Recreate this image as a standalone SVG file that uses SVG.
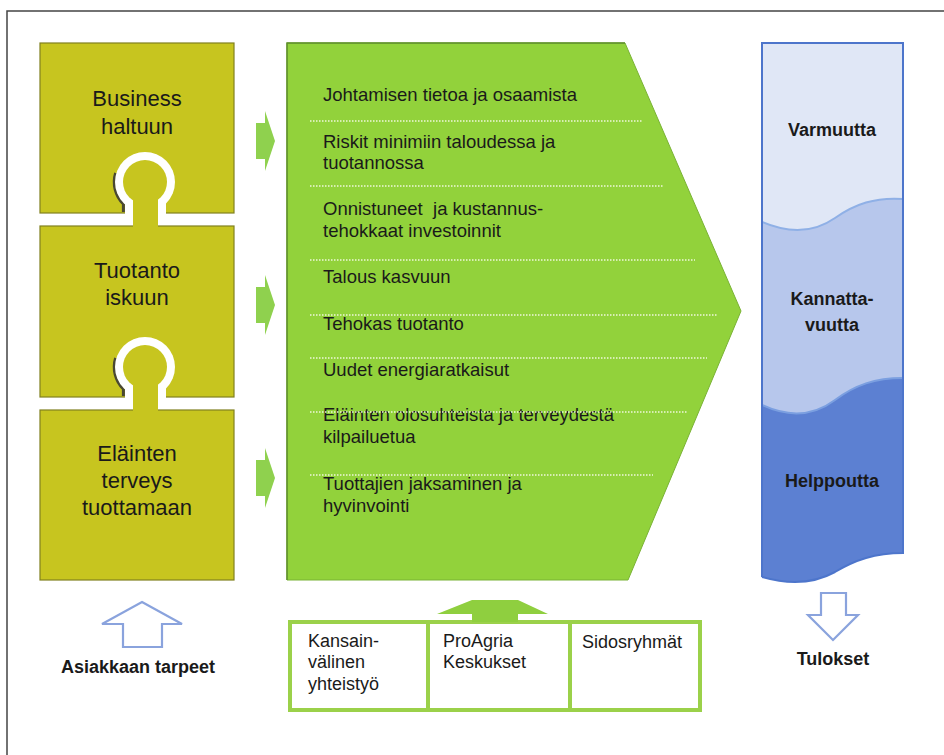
<svg xmlns="http://www.w3.org/2000/svg" width="944" height="755" viewBox="0 0 944 755">
<style>
text{font-family:"Liberation Sans",Arial,sans-serif;fill:#1a1a1a}
.blk{font-size:22px;text-anchor:middle}
.itm{font-size:18.5px}
.bold{font-size:18px;font-weight:bold;text-anchor:middle}
.box{font-size:18px}
.yel{fill:#c7c51f}
.yb{fill:#c7c51f;stroke:#80801e;stroke-width:1.2}
.cut{fill:#ffffff}
.shd{fill:none;stroke:#4a4832;stroke-width:3}
.dot{stroke:#eef8da;stroke-width:1.3;stroke-dasharray:1.5 1.5;fill:none}
.ga{fill:#8fd14e}
.oa{fill:#ffffff;stroke:#8aa3dd;stroke-width:2.2;stroke-linejoin:miter}
</style>
<rect x="0" y="0" width="944" height="755" fill="#ffffff"/>
<g id="frame" fill="none" stroke="#444" stroke-width="1.5">
<path d="M7,755 V11 H944"/>
</g>
<g id="puzzle">
<g id="block-business">
<rect class="yb" x="40" y="43" width="194" height="170"/>
<path class="shd" d="M115.6,173 A31,31 0 0 0 123.4,204 L123.4,212"/>
<circle class="cut" cx="145" cy="182" r="30"/>
<rect class="cut" x="125" y="182" width="41" height="32"/>
<text class="blk" x="137" y="106">Business</text>
<text class="blk" x="137" y="134">haltuun</text>
</g>
<g id="block-tuotanto">
<rect class="yb" x="40" y="226" width="194" height="171"/>
<circle class="yel" cx="145" cy="182" r="22"/>
<rect class="yel" x="133" y="182" width="25" height="46"/>
<path class="shd" d="M115.6,358 A31,31 0 0 0 123.4,389 L123.4,396"/>
<circle class="cut" cx="145" cy="367" r="30"/>
<rect class="cut" x="125" y="367" width="41" height="31"/>
<text class="blk" x="137" y="278">Tuotanto</text>
<text class="blk" x="137" y="305">iskuun</text>
</g>
<g id="block-elainten">
<rect class="yb" x="40" y="410" width="194" height="170"/>
<circle class="yel" cx="145" cy="367" r="22"/>
<rect class="yel" x="133" y="367" width="25" height="45"/>
<text class="blk" x="137" y="461">Eläinten</text>
<text class="blk" x="137" y="488">terveys</text>
<text class="blk" x="137" y="515">tuottamaan</text>
</g>
</g>
<g id="services">
<polygon points="287,43 625,43 741,311 628,580 287,580" fill="#92d23b" stroke="#79b234" stroke-width="1"/>
<path d="M287,580 V43 H625" fill="none" stroke="#5f8f2c" stroke-width="1.5"/>
<text class="itm" x="323" y="101">Johtamisen tietoa ja osaamista</text>
<line class="dot" x1="310" y1="121" x2="643" y2="121"/>
<text class="itm" x="323" y="148">Riskit minimiin taloudessa ja</text>
<text class="itm" x="323" y="169">tuotannossa</text>
<line class="dot" x1="310" y1="186" x2="663" y2="186"/>
<text class="itm" x="323" y="215" xml:space="preserve">Onnistuneet  ja kustannus-</text>
<text class="itm" x="323" y="237">tehokkaat investoinnit</text>
<line class="dot" x1="310" y1="260" x2="695" y2="260"/>
<text class="itm" x="323" y="283">Talous kasvuun</text>
<line class="dot" x1="310" y1="315" x2="718" y2="315"/>
<text class="itm" x="323" y="330">Tehokas tuotanto</text>
<line class="dot" x1="310" y1="358" x2="707" y2="358"/>
<text class="itm" x="323" y="376">Uudet energiaratkaisut</text>
<text class="itm" x="323" y="421">Eläinten olosuhteista ja terveydestä</text>
<line class="dot" x1="310" y1="412" x2="687" y2="412"/>
<text class="itm" x="323" y="443">kilpailuetua</text>
<line class="dot" x1="310" y1="475" x2="653" y2="475"/>
<text class="itm" x="323" y="490">Tuottajien jaksaminen ja</text>
<text class="itm" x="323" y="512">hyvinvointi</text>
</g>
<g id="results">
<path d="M762,43 H903 V199 C875,197 855,204 835,218 C815,232 790,234 762,222 Z" fill="#e0e7f6"/>
<path d="M762,222 C790,234 815,232 835,218 C855,204 875,197 903,199 V378 C875,378 855,385 835,400 C815,415 790,418 762,405 Z" fill="#b7c7ec"/>
<path d="M762,405 C790,418 815,415 835,400 C855,385 875,378 903,378 V553 C875,553 855,560 835,572 C815,583 790,585 762,577 Z" fill="#5c80d2"/>
<path d="M762,222 C790,234 815,232 835,218 C855,204 875,197 903,199" fill="none" stroke="#8fb0e6" stroke-width="2"/>
<path d="M762,405 C790,418 815,415 835,400 C855,385 875,378 903,378" fill="none" stroke="#7b9fe0" stroke-width="2"/>
<path d="M762,577 V43 H903 V553 C875,553 855,560 835,572 C815,583 790,585 762,577" fill="none" stroke="#4d75cb" stroke-width="2"/>
<text class="bold" x="832" y="136">Varmuutta</text>
<text class="bold" x="832" y="305">Kannatta-</text>
<text class="bold" x="832" y="331">vuutta</text>
<text class="bold" x="832" y="487">Helppoutta</text>
</g>
<g id="partners">
<rect x="290" y="622" width="410" height="88" fill="#ffffff" stroke="#9bd14a" stroke-width="4"/>
<line x1="428" y1="622" x2="428" y2="710" stroke="#9bd14a" stroke-width="4"/>
<line x1="570" y1="622" x2="570" y2="710" stroke="#9bd14a" stroke-width="4"/>
<text class="box" x="308" y="647">Kansain-</text>
<text class="box" x="308" y="668">välinen</text>
<text class="box" x="308" y="690">yhteistyö</text>
<text class="box" x="443" y="647">ProAgria</text>
<text class="box" x="443" y="668">Keskukset</text>
<text class="box" x="582" y="648">Sidosryhmät</text>
</g>
<g id="customer-needs">
<text class="bold" x="138" y="673">Asiakkaan tarpeet</text>
</g>
<g id="outcomes">
<text class="bold" x="833" y="665">Tulokset</text>
</g>
<g id="connectors">
<polygon class="ga" points="256,123 265,123 265,111 275,141 265,171 265,159 256,159"/>
<polygon class="ga" points="256,287 265,287 265,275 275,305 265,335 265,323 256,323"/>
<polygon class="ga" points="256,460 265,460 265,448 275,478 265,508 265,496 256,496"/>
<polygon fill="#8fcf3f" points="472,600 518,600 548,614 518,614 518,622 472,622 472,614 437,614"/>
<polygon class="oa" points="142,602 182,624 162,624 162,647 123,647 123,624 102,624"/>
<polygon class="oa" points="821,593 846,593 846,615 858,615 833,640 808,615 821,615"/>
</g>
</svg>
